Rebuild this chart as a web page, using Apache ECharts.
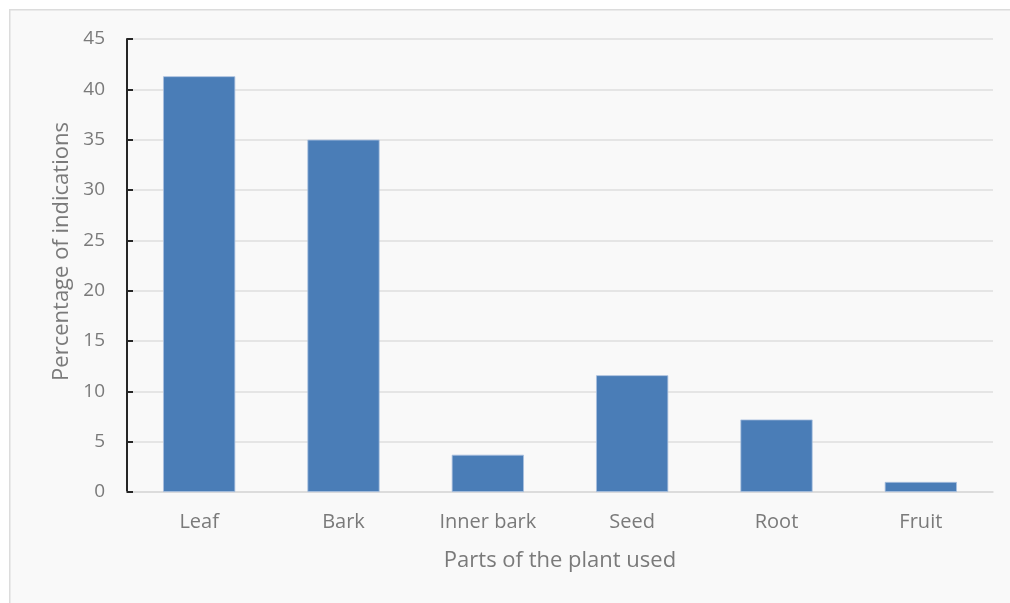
<!DOCTYPE html>
<html>
<head>
<meta charset="utf-8">
<script src="https://cdn.jsdelivr.net/npm/echarts@6/dist/echarts.min.js"></script>
<style>
  html, body { margin: 0; padding: 0; background: #ffffff; }
  #chart { width: 1010px; height: 603px; }
</style>
</head>
<body>
<div id="chart"></div>
<script>
// Plant parts and the share of indications for each
const categories = ['Leaf', 'Bark', 'Inner bark', 'Seed', 'Root', 'Fruit'];
const percentages = [41.3, 35.0, 3.7, 11.6, 7.2, 1.0];
const yTicks = { min: 0, max: 45, interval: 5 };

const textColor = '#7a7a7a';
const fontFamily = '"Open Sans", "Noto Sans", sans-serif';

const chart = echarts.init(document.getElementById('chart'), null, { renderer: 'canvas' });
chart.setOption({
  animation: false,
  backgroundColor: '#ffffff',
  graphic: [{
    type: 'rect',
    left: 9, top: 9,
    shape: { width: 1020, height: 610 },
    style: { fill: '#f9f9f9', stroke: '#dcdcdc', lineWidth: 1.5 },
    z: -10
  }],
  grid: { left: 127, right: 17, top: 39, bottom: 111 },
  xAxis: {
    type: 'category',
    data: categories,
    name: 'Parts of the plant used',
    nameLocation: 'middle',
    nameGap: 58,
    nameTextStyle: { color: textColor, fontSize: 22, fontFamily },
    axisLine: { show: true, lineStyle: { color: '#d9d9d9', width: 1.5 } },
    axisTick: { show: false },
    axisLabel: { color: textColor, fontSize: 20, fontFamily, margin: 20 }
  },
  yAxis: {
    type: 'value',
    min: yTicks.min, max: yTicks.max, interval: yTicks.interval,
    name: 'Percentage of indications',
    nameLocation: 'middle',
    nameGap: 54,
    nameTextStyle: { color: textColor, fontSize: 22, fontFamily, padding: [0, 0, 0, 28] },
    axisLine: { show: true, lineStyle: { color: '#262626', width: 2 } },
    axisTick: { show: true, inside: true, length: 6, lineStyle: { color: '#262626', width: 2 } },
    axisLabel: { color: textColor, fontSize: 19, fontFamily, margin: 22 },
    splitLine: { show: true, lineStyle: { color: '#dedede', width: 1.5 } }
  },
  series: [{
    type: 'bar',
    data: percentages,
    barWidth: '50%',
    itemStyle: { color: '#4a7db7', borderColor: '#a9c0de', borderWidth: 0.8 }
  }]
});
</script>
</body>
</html>
